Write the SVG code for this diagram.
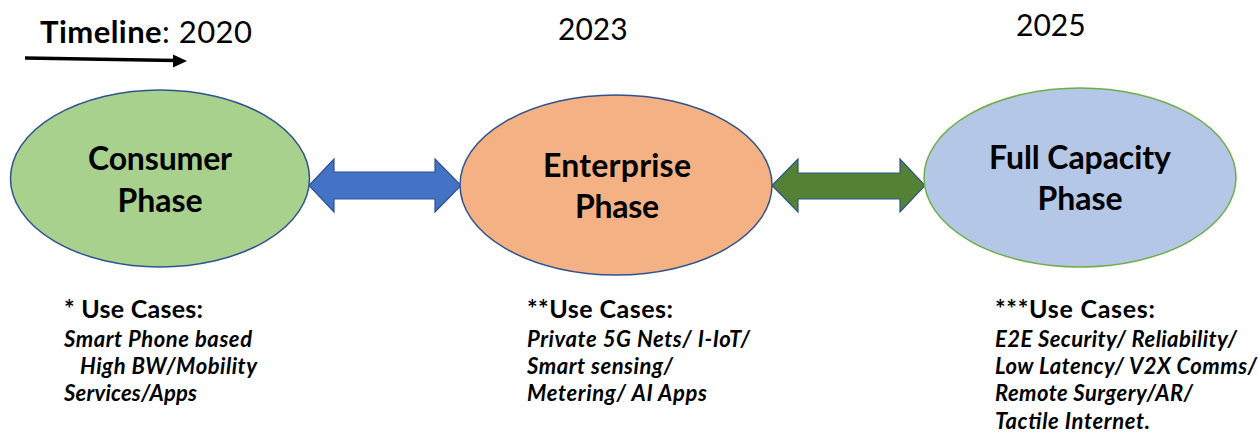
<svg xmlns="http://www.w3.org/2000/svg" width="1258" height="432" viewBox="0 0 1258 432">
  <defs>
    <style>
      text { font-family: "Lato", "Liberation Sans", sans-serif; fill: #000; }
      .year { font-size: 30px; }
      .title { font-size: 32px; font-weight: bold; text-anchor: middle; }
      .head { font-size: 25px; font-weight: bold; }
      .item { font-size: 22px; font-weight: bold; font-style: italic; }
      .dbl { stroke: #2F528F; stroke-width: 1.2; stroke-linejoin: miter; }
    </style>
  </defs>
  <rect width="1258" height="432" fill="#fff"/>

  <!-- timeline header -->
  <g id="timeline">
    <text x="40" y="43" style="font-size:31px" textLength="212"><tspan font-weight="bold">Timeline</tspan>: 2020</text>
    <line x1="25" y1="58" x2="176" y2="60.6" stroke="#000" stroke-width="3.5"/>
    <polygon points="173,54.5 187,61 173,67.5" fill="#000"/>
  </g>
  <text class="year" x="558" y="40">2023</text>
  <text class="year" x="1016" y="36">2025</text>

  <!-- connectors: double-headed block arrows -->
  <g id="connectors">
    <polygon class="dbl" fill="#4472C4" points="309,185.5 334,159 334,172 435,172 435,159 461,185.5 435,212 435,199 334,199 334,212"/>
    <polygon class="dbl" fill="#548235" points="772,185.5 798,159 798,173 900,173 900,159 925,185.5 900,212 900,199 798,199 798,212"/>
  </g>

  <!-- phase nodes -->
  <g id="consumer">
    <ellipse cx="160" cy="178.5" rx="149.5" ry="88.5" fill="#A9D18E" stroke="#2F528F" stroke-width="1.5"/>
    <text class="title" x="160" y="170" textLength="144">Consumer</text>
    <text class="title" x="160" y="212" textLength="85">Phase</text>
  </g>
  <g id="enterprise">
    <ellipse cx="616" cy="185" rx="156" ry="90" fill="#F4B183" stroke="#2F528F" stroke-width="1.5"/>
    <text class="title" x="617" y="177" textLength="148">Enterprise</text>
    <text class="title" x="617" y="218" textLength="84">Phase</text>
  </g>
  <g id="full-capacity">
    <ellipse cx="1080" cy="177.5" rx="156" ry="89.5" fill="#B4C7E7" stroke="#70AD47" stroke-width="1.5"/>
    <text class="title" x="1080" y="169" textLength="182">Full Capacity</text>
    <text class="title" x="1080" y="210" textLength="85">Phase</text>
  </g>

  <!-- use-case notes -->
  <g id="consumer-uses">
    <text class="head" x="64" y="318" textLength="139">* Use Cases:</text>
    <text class="item" x="64" y="347" textLength="188">Smart Phone based</text>
    <text class="item" x="80" y="374" textLength="177">High BW/Mobility</text>
    <text class="item" x="64" y="401" textLength="133">Services/Apps</text>
  </g>
  <g id="enterprise-uses">
    <text class="head" x="527" y="318" textLength="146">**Use Cases:</text>
    <text class="item" x="527" y="347" textLength="223">Private 5G Nets/ I-IoT/</text>
    <text class="item" x="527" y="374" textLength="146">Smart sensing/</text>
    <text class="item" x="527" y="401" textLength="180">Metering/ AI Apps</text>
  </g>
  <g id="full-capacity-uses">
    <text class="head" x="995" y="318" textLength="160">***Use Cases:</text>
    <text class="item" x="995" y="347" textLength="242">E2E Security/ Reliability/</text>
    <text class="item" x="995" y="374" textLength="262">Low Latency/ V2X Comms/</text>
    <text class="item" x="995" y="401" textLength="198">Remote Surgery/AR/</text>
    <text class="item" x="995" y="429" textLength="155">Tactile Internet.</text>
  </g>
</svg>
